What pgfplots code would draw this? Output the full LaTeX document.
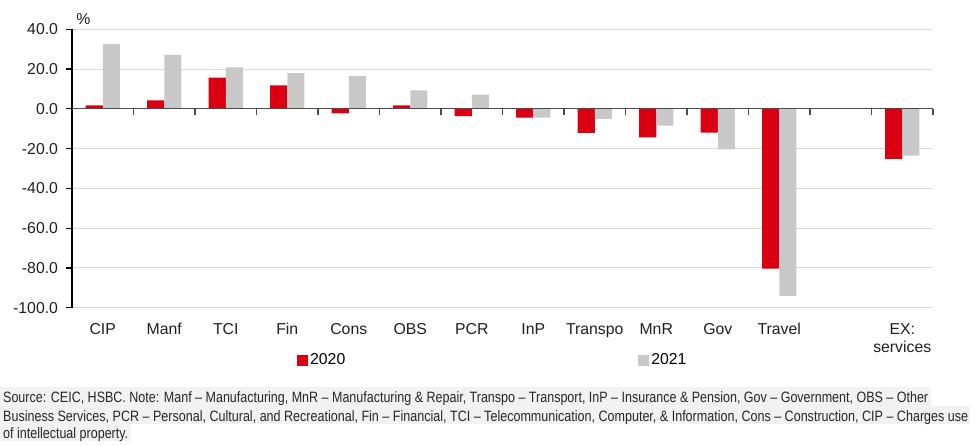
\documentclass[border=0pt]{standalone}
\usepackage{fontspec}
\setmainfont{Liberation Sans}
\usepackage{graphicx}
\usepackage{pgfplots}
\pgfplotsset{compat=1.18}
\definecolor{hsbcred}{HTML}{DB0011}
\definecolor{bargray}{HTML}{C8C8C8}
\definecolor{gridgray}{HTML}{DADADA}
\definecolor{notebg}{HTML}{F2F2F2}
\pgfplotstableread{
x  y
0  1.7
1  4.3
2  15.7
3  11.8
4  -2.3
5  1.7
6  -3.7
7  -4.4
8  -12.1
9  -14.4
10 -11.9
11 -80.4
13 -25.1
}\tbla
\pgfplotstableread{
x  y
0  32.5
1  27.1
2  20.9
3  18.0
4  16.4
5  9.3
6  7.1
7  -4.4
8  -5.1
9  -8.4
10 -20.4
11 -94.1
13 -23.5
}\tblb
\newcommand{\tickfont}{\fontsize{15.8bp}{18bp}\selectfont}
\begin{document}
\begin{tikzpicture}
\path[use as bounding box] (0,0) rectangle (975bp,446bp);
% footnote background
\fill[notebg] (0,40bp) rectangle (931bp,59bp);
\fill[notebg] (0,22bp) rectangle (970bp,40bp);
\fill[notebg] (0,5bp) rectangle (131bp,22bp);
\begin{axis}[
  at={(72bp,138.3bp)}, anchor=south west,
  scale only axis, width=861bp, height=278.4bp,
  xmin=-0.5, xmax=13.5, ymin=-100, ymax=40,
  axis x line*=bottom, axis y line*=left,
  x axis line style={draw=none},
  y axis line style={black, line width=1.2bp},
  xtick={0,...,13},
  xticklabels={CIP,Manf,TCI,Fin,Cons,OBS,PCR,InP,Transpo,MnR,Gov,Travel,,{EX:\\services}},
  major x tick style={draw=none},
  xticklabel style={font=\tickfont, align=center, anchor=north, yshift=-12bp, text=black!88},
  ytick={-100,-80,...,40},
  yticklabel style={font=\tickfont, xshift=-4.5bp, text=black!88},
  /pgf/number format/.cd, fixed, fixed zerofill, precision=1, assume math mode=true, /pgfplots/.cd,
  ytick align=outside, major tick length=6bp,
  major y tick style={black, line width=1.2bp},
  ymajorgrids, major grid style={gridgray, line width=1.1bp},
  legend style={at={(0.2613,-0.188)}, anchor=west, draw=none, fill=none,
    legend columns=2, font=\tickfont, inner sep=0pt,
    /tikz/every even column/.append style={column sep=291bp}},
  legend image code/.code={\fill[#1] (0bp,-5.5bp) rectangle (11bp,5.5bp);},
]
\addplot[ybar, bar width=0.28, bar shift=-0.14, fill=hsbcred, draw=none] table[x=x,y=y] {\tbla};
\addlegendentry{2020}
\addplot[ybar, bar width=0.28, bar shift=0.14, fill=bargray, draw=none] table[x=x,y=y] {\tblb};
\addlegendentry{2021}
\end{axis}
\begin{axis}[
  at={(72bp,138.3bp)}, anchor=south west,
  scale only axis, width=861bp, height=278.4bp,
  xmin=-0.5, xmax=13.5, ymin=-100, ymax=40,
  axis x line=middle, axis y line=none,
  x axis line style={black!70, line width=1.3bp, -},
  xtick={0.5,1.5,...,13.5}, xticklabels={},
  xtick align=outside, major tick length=6.5bp,
  major x tick style={black!70, line width=1.2bp},
  ytick=\empty,
]
\end{axis}
\node[font=\tickfont, text=black!88] at (83.5bp,426.5bp) {\%};
\begin{scope}[font=\fontsize{15bp}{17bp}\selectfont]
\node[anchor=base west, inner sep=0pt, text=black!85] at (3bp,43bp) {\resizebox{925bp}{\height}{Source: CEIC, HSBC. Note: Manf – Manufacturing, MnR – Manufacturing \& Repair, Transpo – Transport, InP – Insurance \& Pension, Gov – Government, OBS – Other}};
\node[anchor=base west, inner sep=0pt, text=black!85] at (3bp,25bp) {\resizebox{965bp}{\height}{Business Services, PCR – Personal, Cultural, and Recreational, Fin – Financial, TCI – Telecommunication, Computer, \& Information, Cons – Construction, CIP – Charges use}};
\node[anchor=base west, inner sep=0pt, text=black!85] at (3bp,8bp) {\resizebox{125bp}{\height}{of intellectual property.}};
\end{scope}
\end{tikzpicture}
\end{document}
